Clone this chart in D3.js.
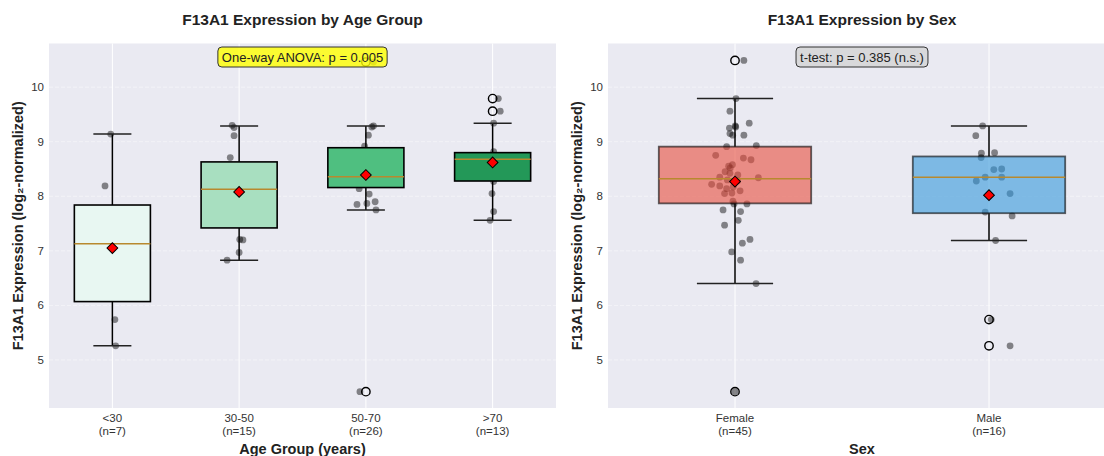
<!DOCTYPE html>
<html>
<head>
<meta charset="utf-8">
<script src="https://cdn.jsdelivr.net/npm/d3@7"></script>
<style>
  body { margin: 0; background: #fff; }
  svg { display: block; font-family: "Liberation Sans", Arial, sans-serif; }
</style>
</head>
<body>
<div id="container"></div>
<script>
/* DATA */
const ageGroups = ["<30", "30-50", "50-70", ">70"];
const ageN = [7, 15, 26, 13];
const ageColors = ["#e8f7f2", "#a8dfc0", "#4fbf80", "#239858"];
const ageQ1 = [6.07, 7.42, 8.16, 8.28];
const ageMedian = [7.13, 8.13, 8.36, 8.68];
const ageQ3 = [7.84, 8.63, 8.89, 8.80];
const ageWhiskerLo = [5.26, 6.83, 7.75, 7.56];
const ageWhiskerHi = [9.14, 9.29, 9.29, 9.34];
const ageMean = [7.05, 8.08, 8.39, 8.62];
const ageOutliers = [[], [], [4.42, 10.46], [9.79, 9.56]];
// visible jittered points: [value, x offset in category units]
const agePoints = [
  [[9.14, -0.013], [8.19, -0.058], [5.74, 0.02], [5.26, 0.026]],
  [[9.30, -0.055], [9.26, -0.04], [9.11, -0.04], [8.71, -0.07], [7.21, 0.005],
   [7.20, 0.03], [6.97, 0.0], [6.83, -0.095]],
  [[10.46, 0.06], [9.27, 0.047], [9.29, 0.06], [9.12, 0.02], [8.92, -0.01],
   [8.14, -0.053], [8.04, 0.026], [7.85, -0.07], [7.87, 0.008], [7.90, 0.073],
   [7.75, 0.08], [4.42, -0.047]],
  [[9.79, 0.045], [9.56, 0.06], [9.34, 0.008], [8.82, 0.008], [8.27, 0.008],
   [8.05, -0.005], [7.72, 0.008], [7.56, -0.02]]
];

const sexGroups = ["Female", "Male"];
const sexN = [45, 16];
const sexColors = ["#e74c3c", "#3498db"];
const sexQ1 = [7.87, 7.69];
const sexMedian = [8.32, 8.35];
const sexQ3 = [8.91, 8.73];
const sexWhiskerLo = [6.40, 7.19];
const sexWhiskerHi = [9.79, 9.29];
const sexMean = [8.27, 8.02];
const sexOutliers = [[10.49, 4.42], [5.74, 5.26]];
const sexPoints = [
  [[10.49, 0.035], [9.79, 0.004], [9.56, -0.02], [9.34, 0.056], [9.25, -0.022],
   [9.29, 0.001], [9.27, 0.003], [9.15, -0.02], [9.12, -0.009], [9.12, 0.035],
   [8.91, -0.033], [8.93, 0.084], [8.75, -0.076], [8.70, 0.033], [8.67, 0.063],
   [8.58, -0.01], [8.55, -0.025], [8.52, -0.019], [8.45, -0.039], [8.42, -0.02],
   [8.39, 0.011], [8.35, -0.06], [8.34, 0.092], [8.30, -0.03], [8.28, 0.01],
   [8.22, -0.092], [8.19, -0.06], [8.17, -0.007], [8.14, -0.033], [8.10, 0.02],
   [8.06, -0.012], [8.05, -0.041], [7.91, -0.008], [7.86, -0.004], [7.86, 0.047],
   [7.75, -0.047], [7.72, 0.022], [7.56, 0.013], [7.47, -0.041], [7.21, 0.059],
   [7.14, 0.029], [6.98, -0.013], [6.83, 0.022], [6.40, 0.083], [4.42, 0.0]],
  [[9.29, -0.025], [9.11, -0.052], [8.79, -0.03], [8.80, 0.022], [8.71, -0.031],
   [8.49, 0.019], [8.50, 0.05], [8.35, -0.015], [8.35, 0.05], [8.28, -0.05],
   [8.05, 0.083], [7.71, -0.015], [7.64, 0.091], [7.19, 0.026], [5.74, 0.009],
   [5.26, 0.083]]
];

const yTicks = [5, 6, 7, 8, 9, 10];

/* CONSTANTS */
const width = 1104;
const height = 456;
const plotTop = 43.5, plotBottom = 408;

const svg = d3.select("#container")
  .append("svg")
  .attr("width", width)
  .attr("height", height);

const yScale = d3.scaleLinear()
  .domain([4.12, 10.8])
  .range([plotBottom, plotTop]);

function drawPanel(p) {
  const xScale = d3.scaleBand()
    .domain(p.cats)
    .range([p.left, p.right])
    .padding(0);
  const bw = xScale.bandwidth();
  const cx = c => xScale(c) + bw / 2;
  const boxW = bw * 0.6, capW = bw * 0.3;

  const g = svg.append("g");

  // background
  g.append("rect")
    .attr("x", p.left).attr("y", plotTop)
    .attr("width", p.right - p.left).attr("height", plotBottom - plotTop)
    .attr("fill", "#eaeaf2");

  // grid
  g.selectAll(".hgrid").data(yTicks).join("line")
    .attr("x1", p.left).attr("x2", p.right)
    .attr("y1", d => yScale(d)).attr("y2", d => yScale(d))
    .attr("stroke", "#fff").attr("stroke-opacity", 0.45)
    .attr("stroke-dasharray", "4,2");
  g.selectAll(".vgrid").data(p.cats).join("line")
    .attr("x1", cx).attr("x2", cx)
    .attr("y1", plotTop).attr("y2", plotBottom)
    .attr("stroke", "#fff").attr("stroke-width", 1);

  // y tick labels
  g.selectAll(".ytick").data(yTicks).join("text")
    .attr("x", p.left - 5).attr("y", d => yScale(d))
    .attr("dy", "0.35em").attr("text-anchor", "end")
    .attr("font-size", 11.5).attr("fill", "#333")
    .text(d => d);

  // x tick labels
  const xt = g.selectAll(".xtick").data(p.cats).join("text")
    .attr("text-anchor", "middle").attr("font-size", 11.5).attr("fill", "#333");
  xt.append("tspan").attr("x", cx).attr("y", 421.5).text(d => d);
  xt.append("tspan").attr("x", cx).attr("y", 435).text((d, i) => `(n=${p.n[i]})`);

  // jittered points
  p.cats.forEach((c, i) => {
    g.selectAll(null).data(p.points[i]).join("circle")
      .attr("cx", d => cx(c) + d[1] * bw)
      .attr("cy", d => yScale(d[0]))
      .attr("r", 3.4)
      .attr("fill", "#000").attr("fill-opacity", 0.45);
  });

  // boxes
  p.cats.forEach((c, i) => {
    const x = cx(c);
    g.append("line")
      .attr("x1", x).attr("x2", x)
      .attr("y1", yScale(p.q3[i])).attr("y2", yScale(p.whi[i]))
      .attr("stroke", "#000").attr("stroke-width", 1.5);
    g.append("line")
      .attr("x1", x).attr("x2", x)
      .attr("y1", yScale(p.q1[i])).attr("y2", yScale(p.wlo[i]))
      .attr("stroke", "#000").attr("stroke-width", 1.5);
    [p.whi[i], p.wlo[i]].forEach(v => {
      g.append("line")
        .attr("x1", x - capW / 2).attr("x2", x + capW / 2)
        .attr("y1", yScale(v)).attr("y2", yScale(v))
        .attr("stroke", "#222").attr("stroke-width", 1.5);
    });
    g.append("rect")
      .attr("x", x - boxW / 2).attr("y", yScale(p.q3[i]))
      .attr("width", boxW).attr("height", yScale(p.q1[i]) - yScale(p.q3[i]))
      .attr("fill", p.colors[i]).attr("fill-opacity", p.boxOpacity)
      .attr("stroke", "#000").attr("stroke-opacity", p.boxOpacity)
      .attr("stroke-width", p.boxStroke);
    g.append("line")
      .attr("x1", x - boxW / 2).attr("x2", x + boxW / 2)
      .attr("y1", yScale(p.median[i])).attr("y2", yScale(p.median[i]))
      .attr("stroke", "#b8892e").attr("stroke-width", 1.5);

    // outliers (hollow)
    g.selectAll(null).data(p.outliers[i]).join("circle")
      .attr("cx", x).attr("cy", d => yScale(d))
      .attr("r", 4.2)
      .attr("fill", "none").attr("stroke", "#000").attr("stroke-width", 1.4);

    // mean marker
    g.append("path")
      .attr("d", d3.symbol(d3.symbolSquare, 58)())
      .attr("transform", `translate(${x},${yScale(p.mean[i])}) rotate(45)`)
      .attr("fill", "red").attr("stroke", "#000").attr("stroke-width", 1);
  });

  // annotation
  const mid = (p.left + p.right) / 2;
  const ann = g.append("g");
  const annRect = ann.append("rect");
  const annText = ann.append("text")
    .attr("x", mid).attr("y", 57).attr("dy", "0.35em")
    .attr("text-anchor", "middle").attr("font-size", 13).attr("fill", "#222")
    .text(p.annotation);
  const tw = annText.node().getComputedTextLength();
  annRect
    .attr("x", mid - tw / 2 - 4).attr("y", 47)
    .attr("width", tw + 8).attr("height", 20)
    .attr("rx", 4)
    .attr("fill", p.annColor).attr("fill-opacity", 0.8)
    .attr("stroke", "#333").attr("stroke-width", 1);

  // titles and labels
  svg.append("text")
    .attr("x", mid).attr("y", 24.5)
    .attr("text-anchor", "middle").attr("font-size", 15.5).attr("font-weight", "bold")
    .attr("fill", "#222")
    .text(p.title);
  svg.append("text")
    .attr("x", mid).attr("y", 453.5)
    .attr("text-anchor", "middle").attr("font-size", 14.5).attr("font-weight", "bold")
    .attr("fill", "#222")
    .text(p.xlabel);
  svg.append("text")
    .attr("transform", `translate(${p.ylabelX},${(plotTop + plotBottom) / 2}) rotate(-90)`)
    .attr("text-anchor", "middle").attr("font-size", 14.5).attr("font-weight", "bold")
    .attr("fill", "#222")
    .text("F13A1 Expression (log\u2082-normalized)");
}

drawPanel({
  left: 49, right: 556, ylabelX: 22.5,
  cats: ageGroups, n: ageN, colors: ageColors,
  q1: ageQ1, median: ageMedian, q3: ageQ3, wlo: ageWhiskerLo, whi: ageWhiskerHi,
  mean: ageMean, outliers: ageOutliers, points: agePoints,
  boxOpacity: 1, boxStroke: 1.6,
  title: "F13A1 Expression by Age Group", xlabel: "Age Group (years)",
  annotation: "One-way ANOVA: p = 0.005", annColor: "#ffff00"
});

drawPanel({
  left: 608, right: 1116, ylabelX: 582,
  cats: sexGroups, n: sexN, colors: sexColors,
  q1: sexQ1, median: sexMedian, q3: sexQ3, wlo: sexWhiskerLo, whi: sexWhiskerHi,
  mean: sexMean, outliers: sexOutliers, points: sexPoints,
  boxOpacity: 0.6, boxStroke: 1.8,
  title: "F13A1 Expression by Sex", xlabel: "Sex",
  annotation: "t-test: p = 0.385 (n.s.)", annColor: "#d3d3d3"
});
</script>
</body>
</html>
